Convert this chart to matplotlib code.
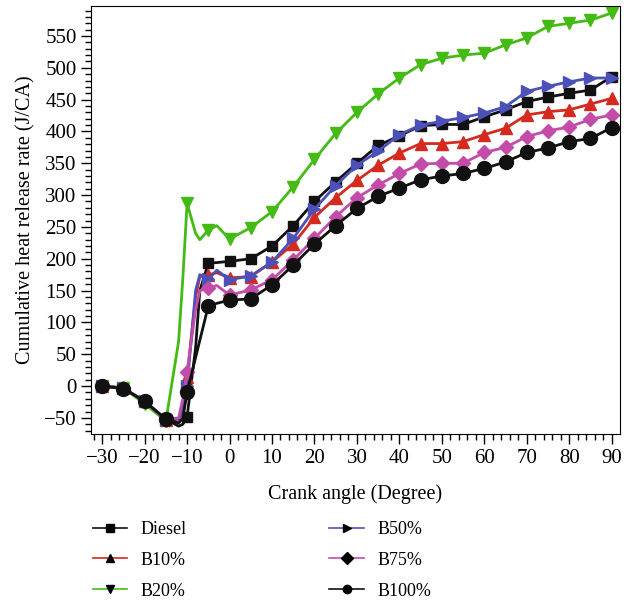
import matplotlib
matplotlib.use("Agg")
import matplotlib.pyplot as plt
from matplotlib.lines import Line2D
from matplotlib.ticker import MultipleLocator

plt.rcParams['font.family'] = ['Liberation Serif', 'DejaVu Serif']
plt.rcParams['font.size'] = 14

crank = [-30, -25, -20, -15, -12, -11, -10, -8, -7, -5, -3, 0, 5, 10, 15, 20, 25,
         30, 35, 40, 45, 50, 55, 60, 65, 70, 75, 80, 85, 90]

diesel = [0, -3, -24, -52, -63, -60, -48, 60, 150, 193, 194, 196, 200, 220, 252, 290, 321,
          350, 378, 393, 409, 411, 411, 423, 434, 447, 454, 460, 465, 486]
b10 = [0, -3, -24, -53, -52, -30, 15, 140, 172, 175, 178, 170, 172, 195, 223, 265, 296,
       323, 347, 366, 381, 381, 384, 395, 405, 426, 431, 434, 443, 452]
b20 = [0, -3, -28, -55, 70, 170, 287, 240, 230, 245, 252, 231, 249, 274, 313, 356, 397,
       430, 459, 484, 505, 515, 520, 523, 536, 547, 565, 570, 575, 586]
b50 = [0, -3, -24, -53, -52, -40, 0, 150, 175, 168, 182, 167, 173, 195, 232, 278, 315,
       347, 369, 395, 410, 416, 422, 429, 439, 463, 471, 478, 484, 484]
b75 = [0, -3, -24, -53, -50, -20, 22, 120, 150, 154, 158, 143, 151, 167, 198, 232, 266,
       296, 316, 334, 349, 350, 350, 367, 375, 392, 401, 407, 419, 426]
b100 = [0, -4, -24, -52, -58, -50, -10, 45, 72, 126, 130, 135, 137, 159, 190, 223, 252,
        279, 298, 311, 324, 330, 334, 342, 352, 367, 374, 384, 389, 406]

series = [
    ("Diesel", diesel, "#111111", "s", 6.5),
    ("B10%", b10, "#d42a1f", "^", 8),
    ("B20%", b20, "#44bb14", "v", 8),
    ("B50%", b50, "#4b51b8", ">", 8),
    ("B75%", b75, "#c44ca9", "D", 7),
    ("B100%", b100, "#111111", "o", 10),
]

marks = [i for i, x in enumerate(crank) if x % 5 == 0]

fig = plt.figure(figsize=(6.33, 6.08), dpi=100)
ax = fig.add_axes([0.144, 0.286, 0.835, 0.704])

for name, vals, col, mk, ms in series:
    ax.plot(crank, vals, color=col, lw=2, marker=mk, ms=ms, markevery=marks,
            markeredgecolor=col, markerfacecolor=col)

ax.set_xlim(-32.6, 91.9)
ax.set_ylim(-75.5, 597)
ax.xaxis.set_major_locator(MultipleLocator(10))
ax.xaxis.set_minor_locator(MultipleLocator(2))
ax.yaxis.set_major_locator(MultipleLocator(50))
ax.yaxis.set_minor_locator(MultipleLocator(10))
ax.tick_params(which='major', length=7, width=1, direction='out', labelsize=15)
ax.tick_params(which='minor', length=4, width=1, direction='out')
ax.set_xlabel("Crank angle (Degree)", fontsize=14.5, labelpad=12)
ax.set_ylabel("Cumulative heat release rate (J/CA)", fontsize=14.5, labelpad=6)

handles = [Line2D([], [], color=col, lw=1.2, marker=mk, ms=6, markerfacecolor="black",
                  markeredgecolor="black") for name, vals, col, mk, ms in series]
labels = [s[0] for s in series]
fig.legend(handles, labels, ncol=2, loc="upper left", bbox_to_anchor=(0.121, 0.17),
           frameon=False, fontsize=13, handlelength=1.9, handletextpad=0.75,
           columnspacing=7.9, labelspacing=0.77)

fig.savefig("out.png", dpi=100)
